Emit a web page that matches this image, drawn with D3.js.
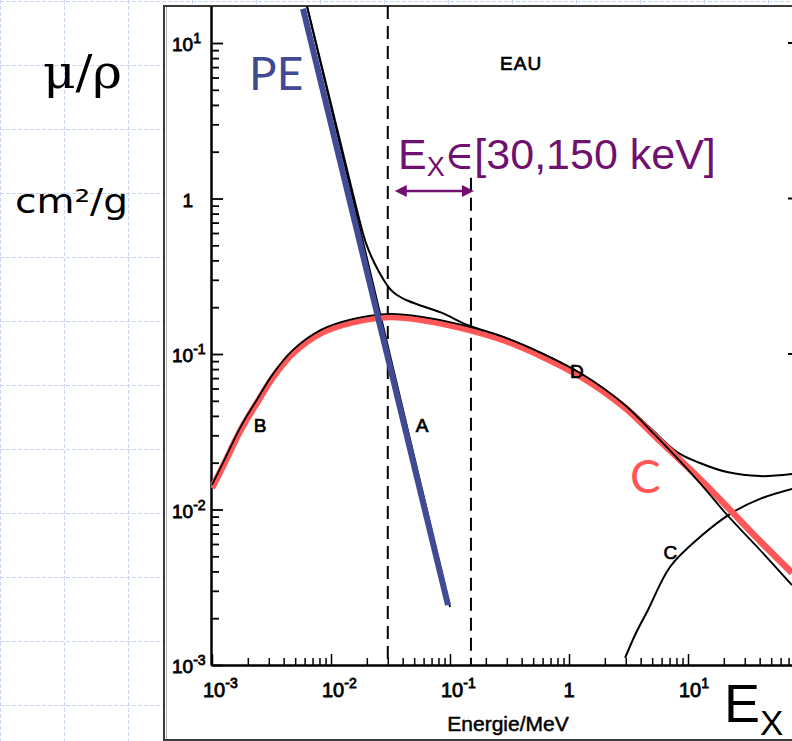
<!DOCTYPE html>
<html>
<head>
<meta charset="utf-8">
<script src="https://cdn.jsdelivr.net/npm/d3@7"></script>
<style>
  html, body { margin: 0; padding: 0; background: #ffffff; }
  svg { display: block; }
</style>
</head>
<body>
<svg id="chart" width="792" height="741"></svg>
<script>
// Mass attenuation coefficient of water (EAU), mu/rho in cm²/g, vs photon energy in MeV

// Axis ticks
const energyTicks = [1e-3, 1e-2, 1e-1, 1, 10];
const energyTickLabels = [["10", "-3"], ["10", "-2"], ["10", "-1"], ["1", ""], ["10", "1"]];
const muTicks = [1e-3, 1e-2, 1e-1, 1, 10];
const muTickLabels = [["10", "-3"], ["10", "-2"], ["10", "-1"], ["1", ""], ["10", "1"]];

// A: photoelectric absorption (thin black) and its highlighted trace (PE)
const photoEnergy = [0.00628, 0.1];
const photoMu = [17.3, 0.00236];
const peEnergy = [0.00582, 0.0962];
const peMu = [16.6, 0.00243];

// B/D: scattering (Compton) curve
const comptonEnergy = [0.001, 0.001274, 0.00174, 0.00238, 0.00326, 0.0048, 0.00824, 0.01545, 0.0313, 0.0582,
                       0.126, 0.279, 0.605, 1.31, 2.90, 5.38, 12.6, 21.3, 40.3, 74.8];
const comptonMu = [0.0144, 0.0209, 0.0340, 0.0507, 0.0745, 0.1062, 0.1430, 0.1682, 0.1812, 0.1734,
                   0.1537, 0.1288, 0.1002, 0.0735, 0.0475, 0.0297, 0.01479, 0.00923, 0.00549, 0.00326];
// Highlighted Compton trace (C)
const comptonHighlightMu = [0.01374, 0.0199, 0.0324, 0.0484, 0.0711, 0.1014, 0.1365, 0.1606, 0.173, 0.1656,
                            0.1468, 0.1230, 0.0957, 0.0702, 0.0456, 0.0292, 0.0157, 0.0104, 0.00626, 0.00391];

// Total attenuation
const totalEnergy = [0.00628, 0.00981, 0.01473, 0.01752, 0.01968, 0.02211, 0.02483, 0.02843, 0.03192, 0.03585,
                     0.0427, 0.0582, 0.0857, 0.1416, 0.279, 0.605, 1.31, 2.90, 4.80, 8.09, 12.6, 21.3, 40.3, 74.8];
const totalMu = [17.3, 4.30, 1.203, 0.706, 0.517, 0.4143, 0.3468, 0.2904, 0.2580, 0.2395,
                 0.2225, 0.2036, 0.1837, 0.1530, 0.1288, 0.1002, 0.0735, 0.0475, 0.0335, 0.0234, 0.0199, 0.0174, 0.0164, 0.0169];

// C: pair production
const pairEnergy = [2.96, 3.59, 4.61, 7.06, 12.6, 22.5, 40.3, 74.8];
const pairMu = [0.00111, 0.00156, 0.00226, 0.00427, 0.00665, 0.00935, 0.0117, 0.01355];

// Diagnostic energy window [30,150 keV]
const windowEnergy = [0.03, 0.15];
const windowTopMu = [17.3, 1.36];
const arrowMu = 1.117;

// Curve letters
const curveLetters = [
  { text: "B", E: 0.00253, mu: 0.0349 },
  { text: "A", E: 0.0582, mu: 0.0349 },
  { text: "D", E: 1.167, mu: 0.0778 },
  { text: "C", E: 7.1, mu: 0.00533 }
];

const W = 792, H = 741;
const svg = d3.select("#chart");

// ---- slide background: dashed grid ----
const grid = svg.append("g")
  .attr("stroke", "#c8d5f4").attr("stroke-width", 1).attr("stroke-dasharray", "4,2");
d3.range(0, W + 1, 64).forEach(gx => {
  grid.append("line").attr("x1", gx + 0.5).attr("x2", gx + 0.5).attr("y1", 0).attr("y2", H);
});
d3.range(1, H + 1, 64).forEach(gy => {
  grid.append("line").attr("x1", 0).attr("x2", W).attr("y1", gy + 0.5).attr("y2", gy + 0.5);
});

// ---- chart panel ----
svg.append("rect")
  .attr("x", 164).attr("y", 6).attr("width", 700).attr("height", 734)
  .attr("fill", "#ffffff").attr("stroke", "#3a3a3a").attr("stroke-width", 2);
svg.append("line")
  .attr("x1", 166.5).attr("x2", 166.5).attr("y1", 7).attr("y2", 739)
  .attr("stroke", "#b0b0b0").attr("stroke-width", 1);

// ---- scales ----
const x = d3.scaleLog().domain([1e-3, 1e3]).range([212, 926]);
const y = d3.scaleLog().domain([1e-3, 17.3]).range([665, 6]);

const axisX = x.range()[0] - 1;
const axisY = y.range()[0];

function minorValues(lo, hi, maxV) {
  const out = [];
  for (let d = lo; d < hi; d++) {
    for (let k = 2; k <= 9; k++) {
      const v = k * Math.pow(10, d);
      if (v <= maxV) out.push(v);
    }
  }
  return out;
}

const plot = svg.append("g");
plot.append("clipPath").attr("id", "plotClip")
  .append("rect").attr("x", axisX).attr("y", 6).attr("width", W - axisX).attr("height", axisY - 6);

// ---- y axis (ticks point inward) ----
const yMajor = plot.append("g").attr("transform", `translate(${axisX},0)`)
  .call(d3.axisLeft(y).tickValues(muTicks).tickSize(-12).tickSizeOuter(0).tickFormat(""));
const yMinor = plot.append("g").attr("transform", `translate(${axisX},0)`)
  .call(d3.axisLeft(y).tickValues(minorValues(-3, 2, y.domain()[1])).tickSize(-8).tickSizeOuter(0).tickFormat(""));
yMinor.select(".domain").remove();
yMajor.select(".domain").attr("stroke-width", 2.5);
[yMajor, yMinor].forEach(g => g.selectAll(".tick line").attr("stroke-width", 1.8));

// small marks of the right-hand frame axis
plot.append("g").selectAll("line").data(muTicks.slice(2)).join("line")
  .attr("x1", 788).attr("x2", 792).attr("y1", d => y(d)).attr("y2", d => y(d))
  .attr("stroke", "#000").attr("stroke-width", 2);

// ---- x axis ----
const xMajor = plot.append("g").attr("transform", `translate(0,${axisY})`)
  .call(d3.axisBottom(x).tickValues(energyTicks).tickSize(-11).tickSizeOuter(0).tickFormat(""));
const xMinor = plot.append("g").attr("transform", `translate(0,${axisY})`)
  .call(d3.axisBottom(x).tickValues(minorValues(-3, 3, 1e3)).tickSize(-7).tickSizeOuter(0).tickFormat(""));
xMinor.select(".domain").remove();
xMajor.select(".domain").attr("stroke-width", 2.5);
[xMajor, xMinor].forEach(g => g.selectAll(".tick line").attr("stroke-width", 1.5));

// tick labels with superscript exponents
const labelFont = "'Liberation Sans', Arial, sans-serif";
muTicks.forEach((v, i) => {
  const [base, exp] = muTickLabels[i];
  const t = plot.append("text")
    .attr("font-family", labelFont).attr("font-size", 19)
    .attr("fill", "#000").attr("stroke", "#000").attr("stroke-width", 0.8)
    .attr("y", y(v) + 8);
  if (exp) {
    t.attr("x", axisX - 39);
    t.append("tspan").text(base);
    t.append("tspan").attr("font-size", 14).attr("dy", -8).text(exp);
  } else {
    t.attr("x", axisX - 18).attr("text-anchor", "end").text(base);
  }
});
energyTicks.forEach((v, i) => {
  const [base, exp] = energyTickLabels[i];
  const t = plot.append("text")
    .attr("font-family", labelFont).attr("font-size", 20)
    .attr("fill", "#000").attr("stroke", "#000").attr("stroke-width", 0.8)
    .attr("y", axisY + 32);
  if (exp) {
    t.attr("x", x(v) - 9);
    t.append("tspan").text(base);
    t.append("tspan").attr("font-size", 14).attr("dy", -9).text(exp);
  } else {
    t.attr("x", x(v)).attr("text-anchor", "middle").text(base);
  }
});

plot.append("text")
  .attr("x", 508).attr("y", 731).attr("text-anchor", "middle")
  .attr("font-family", labelFont).attr("font-size", 21)
  .attr("fill", "#000").attr("stroke", "#000").attr("stroke-width", 0.5)
  .text("Energie/MeV");

plot.append("text")
  .attr("x", x(0.396)).attr("y", y(6.70)).attr("text-anchor", "middle")
  .attr("font-family", labelFont).attr("font-size", 19).attr("letter-spacing", 1)
  .attr("fill", "#000").attr("stroke", "#000").attr("stroke-width", 0.7)
  .text("EAU");

// ---- curves ----
const curves = plot.append("g").attr("clip-path", "url(#plotClip)");
const toPoints = (E, M) => E.map((e, i) => [e, M[i]]);
const line = d3.line().x(d => x(d[0])).y(d => y(d[1])).curve(d3.curveCatmullRom.alpha(0.5));

// window guides
curves.selectAll("line.guide").data(windowEnergy).join("line")
  .attr("class", "guide")
  .attr("x1", d => x(d)).attr("x2", d => x(d))
  .attr("y1", (d, i) => y(windowTopMu[i])).attr("y2", axisY)
  .attr("stroke", "#000").attr("stroke-width", 2).attr("stroke-dasharray", "13,7");

curves.append("path").attr("d", line(toPoints(photoEnergy, photoMu)))
  .attr("fill", "none").attr("stroke", "#000").attr("stroke-width", 1.8);
curves.append("path").attr("d", line(toPoints(totalEnergy, totalMu)))
  .attr("fill", "none").attr("stroke", "#000").attr("stroke-width", 2);
curves.append("path").attr("d", line(toPoints(pairEnergy, pairMu)))
  .attr("fill", "none").attr("stroke", "#000").attr("stroke-width", 2);

// highlighted Compton trace, with the original curve along its upper edge
curves.append("path").attr("d", line(toPoints(comptonEnergy, comptonHighlightMu)))
  .attr("fill", "none").attr("stroke", "#ff5757").attr("stroke-width", 6.5);
curves.append("path").attr("d", line(toPoints(comptonEnergy, comptonMu)))
  .attr("fill", "none").attr("stroke", "#000").attr("stroke-width", 1.8);

// highlighted photoelectric trace
curves.append("path").attr("d", line(toPoints(peEnergy, peMu)))
  .attr("fill", "none").attr("stroke", "#414a95").attr("stroke-width", 6);

// curve letters
plot.selectAll("text.letter").data(curveLetters).join("text")
  .attr("class", "letter")
  .attr("x", d => x(d.E)).attr("y", d => y(d.mu) + 7)
  .attr("text-anchor", "middle")
  .attr("font-family", labelFont).attr("font-size", 19)
  .attr("fill", "#000").attr("stroke", "#000").attr("stroke-width", 0.7)
  .text(d => d.text);

// ---- overlay annotations ----
const slideFont = "Lato, 'Open Sans', sans-serif";
plot.append("text")
  .attr("x", x(0.00205)).attr("y", y(4.99))
  .attr("font-family", slideFont).attr("font-size", 46).attr("fill", "#414a95")
  .text("PE");
plot.append("text")
  .attr("x", x(3.26)).attr("y", y(0.01276))
  .attr("font-family", slideFont).attr("font-size", 46).attr("fill", "#ff5757")
  .text("C");

// energy window arrow and label
const purple = "#701070";
const ax1 = x(windowEnergy[0]) + 7, ax2 = x(windowEnergy[1]) + 3, ay = y(arrowMu);
plot.append("line")
  .attr("x1", ax1 + 8).attr("x2", ax2 - 8).attr("y1", ay).attr("y2", ay)
  .attr("stroke", purple).attr("stroke-width", 2.5);
plot.append("path")
  .attr("d", `M${ax1},${ay} L${ax1 + 12},${ay - 6} L${ax1 + 12},${ay + 6} Z M${ax2},${ay} L${ax2 - 12},${ay - 6} L${ax2 - 12},${ay + 6} Z`)
  .attr("fill", purple);

const win = plot.append("text")
  .attr("x", x(0.0366)).attr("y", y(1.549))
  .attr("font-family", "'Liberation Sans', Arial, sans-serif").attr("font-size", 43)
  .attr("fill", purple);
win.append("tspan").text("E");
win.append("tspan").attr("font-size", 27).attr("dy", 7).text("X");
win.append("tspan").attr("dy", -7).attr("font-family", "'Liberation Serif', 'DejaVu Serif', serif").attr("font-size", 40).text("∈");
win.append("tspan").text("[30,150 keV]");

// ---- slide labels ----
svg.append("text")
  .attr("x", 43).attr("y", 88)
  .attr("font-family", "'DejaVu Serif', 'Liberation Serif', serif").attr("font-size", 46)
  .attr("textLength", 79).attr("lengthAdjust", "spacingAndGlyphs")
  .attr("fill", "#000")
  .text("μ/ρ");
svg.append("text")
  .attr("x", 15).attr("y", 213)
  .attr("font-family", "'DejaVu Sans', sans-serif").attr("font-size", 33)
  .attr("textLength", 113).attr("lengthAdjust", "spacingAndGlyphs")
  .attr("fill", "#000")
  .text("cm²/g");

const ex = svg.append("text")
  .attr("x", 724).attr("y", 722)
  .attr("font-family", "'Liberation Sans', Arial, sans-serif").attr("font-size", 54)
  .attr("fill", "#000");
ex.append("tspan").text("E");
ex.append("tspan").attr("font-size", 35).attr("dy", 13).text("X");
</script>
</body>
</html>
